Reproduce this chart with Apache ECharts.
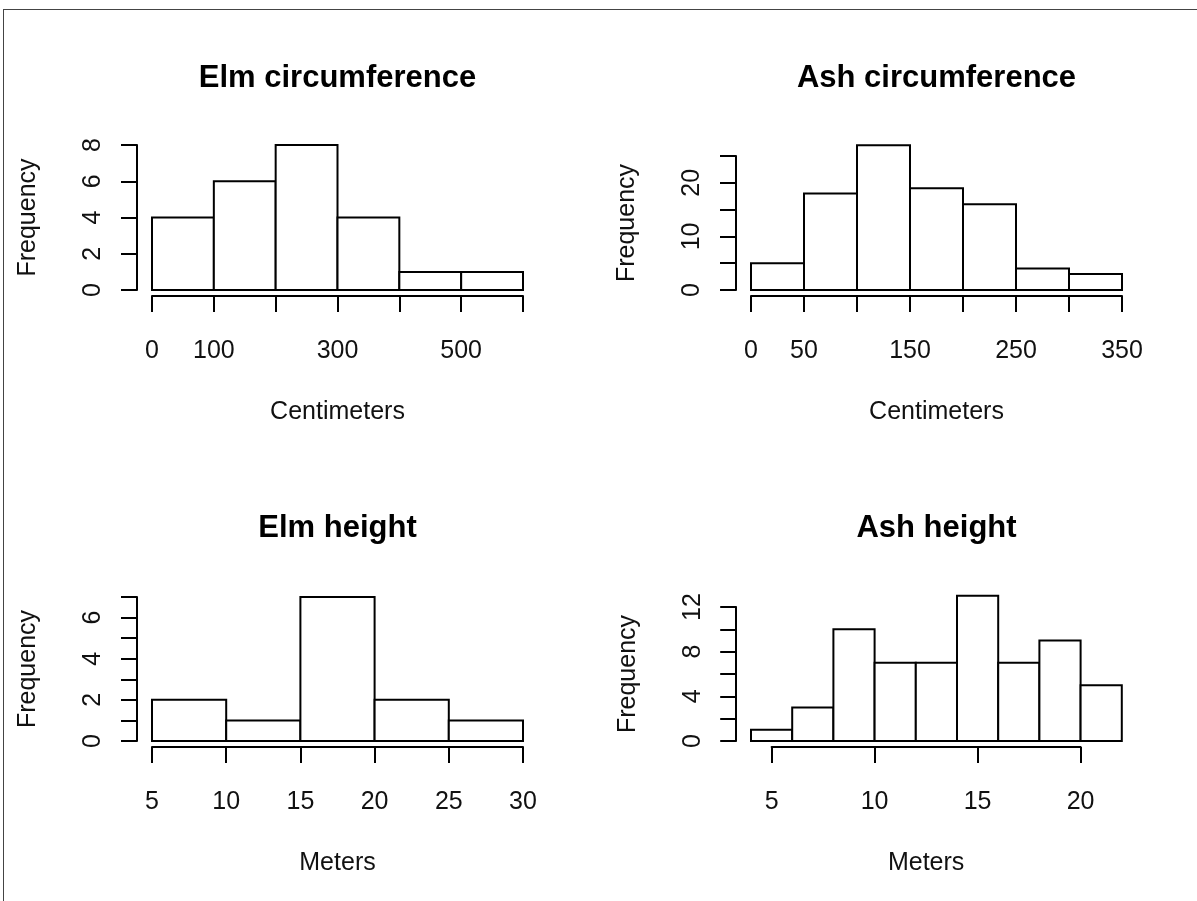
<!DOCTYPE html>
<html>
<head>
	<meta charset="utf-8">
	<title>Elm and Ash histograms</title>
	<script src="https://cdn.jsdelivr.net/npm/echarts@6/dist/echarts.min.js"></script>
	<style>
	html,body{margin:0;padding:0;background:#fff;overflow:hidden;}
	#chart{width:1197px;height:901px;}
	#frame{position:absolute;left:3px;top:9px;right:0;bottom:0;border-left:1px solid #444;border-top:1px solid #444;pointer-events:none;}
	</style>
</head>
<body>
	<div id="chart"></div>
	<div id="frame"></div>
<script type="text/javascript">
	// histogram bins: break points and counts per bin
	var elmCircBreaks=[0,100,200,300,400,500,600];
	var elmCircCounts=[4,6,8,4,1,1];
	var ashCircBreaks=[0,50,100,150,200,250,300,350];
	var ashCircCounts=[5,18,27,19,16,4,3];
	var elmHeightBreaks=[5,10,15,20,25,30];
	var elmHeightCounts=[2,1,7,2,1];
	var ashHeightBreaks=[4,6,8,10,12,14,16,18,20,22];
	var ashHeightCounts=[1,3,10,7,7,13,7,9,5];

	// tick labels that R actually printed (others are dropped for overlap)
	var elmCircXLabels=[0,100,300,500];
	var elmCircYLabels=[0,2,4,6,8];
	var ashCircXLabels=[0,50,150,250,350];
	var ashCircYLabels=[0,10,20];
	var elmHeightXLabels=[5,10,15,20,25,30];
	var elmHeightYLabels=[0,2,4,6];
	var ashHeightXLabels=[5,10,15,20];
	var ashHeightYLabels=[0,4,8,12];

	var font='"Liberation Sans", Arial, sans-serif';
	var ink='#000';

	var panels=[
		{title:'Elm circumference',xName:'Centimeters',breaks:elmCircBreaks,counts:elmCircCounts,
			xLabels:elmCircXLabels,yLabels:elmCircYLabels,x:[0,600,100],y:[0,8,2],
			box:{left:152,top:145,width:371,height:145},yOff:15,titleX:337.5,titleY:78},
		{title:'Ash circumference',xName:'Centimeters',breaks:ashCircBreaks,counts:ashCircCounts,
			xLabels:ashCircXLabels,yLabels:ashCircYLabels,x:[0,350,50],y:[0,25,5],
			box:{left:751,top:156,width:371,height:134},yOff:15,titleX:936.5,titleY:78},
		{title:'Elm height',xName:'Meters',breaks:elmHeightBreaks,counts:elmHeightCounts,
			xLabels:elmHeightXLabels,yLabels:elmHeightYLabels,x:[5,30,5],y:[0,7,1],
			box:{left:152,top:597,width:371,height:144},yOff:15,titleX:337.5,titleY:528},
		{title:'Ash height',xName:'Meters',breaks:ashHeightBreaks,counts:ashHeightCounts,
			xLabels:ashHeightXLabels,yLabels:ashHeightYLabels,x:[5,20,5],y:[0,12,2],
			box:{left:771.6,top:607,width:309,height:134},yOff:35.4,titleX:936.5,titleY:528}
	];

	function toBins(breaks,counts){
		var out=[];
		for(var i=0;i<counts.length;i++){
			out.push([breaks[i],breaks[i+1],counts[i]]);
		}
		return out;
	}

	function renderBin(params,api){
		var p0=api.coord([api.value(0),api.value(2)]);
		var p1=api.coord([api.value(1),0]);
		return {
			type:'rect',
			shape:{x:p0[0],y:p0[1],width:p1[0]-p0[0],height:p1[1]-p0[1]},
			style:{fill:'#fff',stroke:ink,lineWidth:2}
		};
	}

	function pick(list){
		return function(v){
			return list.indexOf(Math.round(v))>=0?String(Math.round(v)):'';
		};
	}

	var grid=[],xAxis=[],yAxis=[],series=[],graphic=[];
	for(var i in panels){
		var p=panels[i];
		var idx=Number(i);
		grid.push(Object.assign({},p.box));
		xAxis.push({
			gridIndex:idx,type:'value',min:p.x[0],max:p.x[1],interval:p.x[2],offset:6,
			axisLine:{show:true,onZero:false,lineStyle:{color:ink,width:2}},
			axisTick:{show:true,length:16,lineStyle:{color:ink,width:2}},
			axisLabel:{margin:43,fontSize:25,color:'#111',fontFamily:font,formatter:pick(p.xLabels),
				showMinLabel:true,showMaxLabel:true},
			splitLine:{show:false},
			name:p.xName,nameLocation:'middle',nameGap:104,
			nameTextStyle:{fontSize:25,color:'#111',fontFamily:font}
		});
		yAxis.push({
			gridIndex:idx,type:'value',min:p.y[0],max:p.y[1],interval:p.y[2],offset:p.yOff,
			axisLine:{show:true,onZero:false,lineStyle:{color:ink,width:2}},
			axisTick:{show:true,length:16,lineStyle:{color:ink,width:2}},
			axisLabel:{rotate:90,margin:31,fontSize:25,color:'#111',fontFamily:font,formatter:pick(p.yLabels),
				showMinLabel:true,showMaxLabel:true},
			splitLine:{show:false},
			name:'Frequency',nameLocation:'middle',nameGap:96,nameRotate:90,
			nameTextStyle:{fontSize:25,color:'#111',fontFamily:font}
		});
		series.push({
			type:'custom',coordinateSystem:'cartesian2d',xAxisIndex:idx,yAxisIndex:idx,
			clip:false,silent:true,renderItem:renderBin,
			encode:{x:[0,1],y:2},
			data:toBins(p.breaks,p.counts)
		});
		graphic.push({
			type:'text',x:p.titleX,y:p.titleY,
			style:{text:p.title,fill:ink,font:'bold 31px '+font,align:'center',verticalAlign:'middle'}
		});
	}

	var myChart=echarts.init(document.getElementById('chart'),null,{renderer:'canvas'});
	myChart.setOption({
		animation:false,
		backgroundColor:'#fff',
		grid:grid,
		xAxis:xAxis,
		yAxis:yAxis,
		series:series,
		graphic:graphic
	});
	window.addEventListener('resize',()=>{
		myChart.resize();
	});
</script>
</body>
</html>
